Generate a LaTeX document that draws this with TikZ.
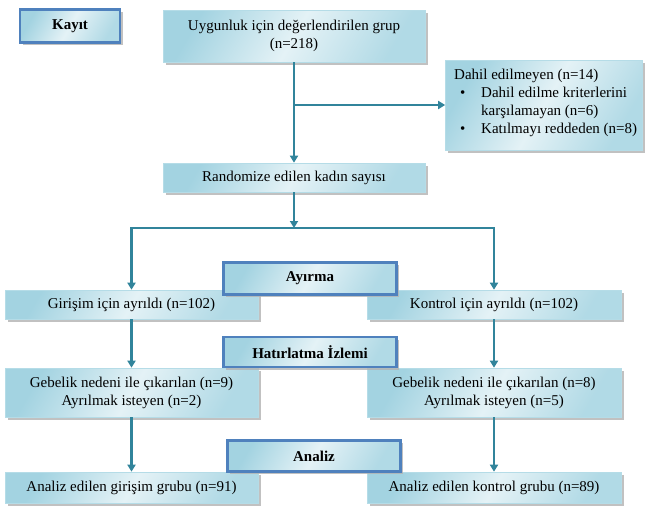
\documentclass[tikz,border=0pt]{standalone}
\usepackage{fontspec}
\setmainfont{Liberation Serif}
\usetikzlibrary{arrows.meta,shadows}
\definecolor{boxdark}{HTML}{A3D3E1}
\definecolor{boxlight}{HTML}{E4F2F6}
\definecolor{arrowc}{HTML}{31849B}
\definecolor{labborder}{HTML}{4F81BD}
\tikzset{
  box/.style={draw=boxdark!80!white, line width=0.6pt, left color=boxdark, right color=boxdark!85!white, middle color=boxlight, shading angle=60,
    inner sep=0pt, align=center, font=\fontsize{15}{18}\selectfont,
    drop shadow={shadow xshift=2.5pt, shadow yshift=-2.5pt, fill=black!30, opacity=0.8}},
  labbox/.style={box, draw=labborder, line width=2.2pt, font=\fontsize{15}{18}\selectfont\bfseries},
  arr/.style={draw=arrowc, line width=2.5pt, -{Triangle[width=8pt,length=7pt]}},
  txt/.style={inner sep=0pt, align=left, font=\fontsize{15}{18}\selectfont},
}
\begin{document}
\begin{tikzpicture}[x=1pt,y=-1pt]
\useasboundingbox (0,0) rectangle (646,506);
% main boxes
\node[box, minimum width=262pt, minimum height=52pt] (uyg) at (294,36) {Uygunluk için değerlendirilen grup\\(n=218)};
\node[box, minimum width=197pt, minimum height=90pt] (dahil) at (544,105) {};
\node[txt, anchor=west] (dahiltxt) at (454,103)
 {Dahil edilmeyen (n=14)\\
  \makebox[27pt][l]{\hspace{6pt}\textbullet}Dahil edilme kriterlerini\\
  \hspace*{27pt}karşılamayan (n=6)\\
  \makebox[27pt][l]{\hspace{6pt}\textbullet}Katılmayı reddeden (n=8)};
\node[box, minimum width=262pt, minimum height=29pt] (rand) at (294,177.5) {Randomize edilen kadın sayısı};
\node[box, minimum width=253pt, minimum height=29pt] (gir) at (131.5,304.5) {Girişim için ayrıldı (n=102)};
\node[box, minimum width=254pt, minimum height=29pt] (kon) at (494,304.5) {Kontrol için ayrıldı (n=102)};
\node[box, minimum width=253pt, minimum height=49pt] (geb1) at (131.5,392.5) {Gebelik nedeni ile çıkarılan (n=9)\\Ayrılmak isteyen (n=2)};
\node[box, minimum width=254pt, minimum height=49pt] (geb2) at (494,392.5) {Gebelik nedeni ile çıkarılan (n=8)\\Ayrılmak isteyen (n=5)};
\node[box, minimum width=253pt, minimum height=31pt] (an1) at (131.5,487.5) {Analiz edilen girişim grubu (n=91)};
\node[box, minimum width=254pt, minimum height=31pt] (an2) at (494,487.5) {Analiz edilen kontrol grubu (n=89)};
% connectors
\coordinate (split) at (294,228);
\draw[arr] (uyg.south) -- (rand.north);
\draw[arr] (uyg.south |- dahil.west) -- (dahil.west);
\draw[arr] (rand.south) -- (split);
\draw[arr] (split) -| (gir.north);
\draw[arr] (split) -| (kon.north);
\draw[arr] (gir.south) -- (geb1.north);
\draw[arr] (kon.south) -- (geb2.north);
\draw[arr] (geb1.south) -- (an1.north);
\draw[arr] (geb2.south) -- (an2.north);
% label boxes
\node[labbox, minimum width=100pt, minimum height=33pt] (kayit) at (70,26) {Kayıt};
\node[labbox, minimum width=173pt, minimum height=32pt] (ayirma) at (310,278.5) {Ayırma};
\node[labbox, minimum width=173pt, minimum height=30pt] (hat) at (310,352) {Hatırlatma İzlemi};
\node[labbox, minimum width=173pt, minimum height=31pt] (analiz) at (314,456) {Analiz};
\end{tikzpicture}
\end{document}
